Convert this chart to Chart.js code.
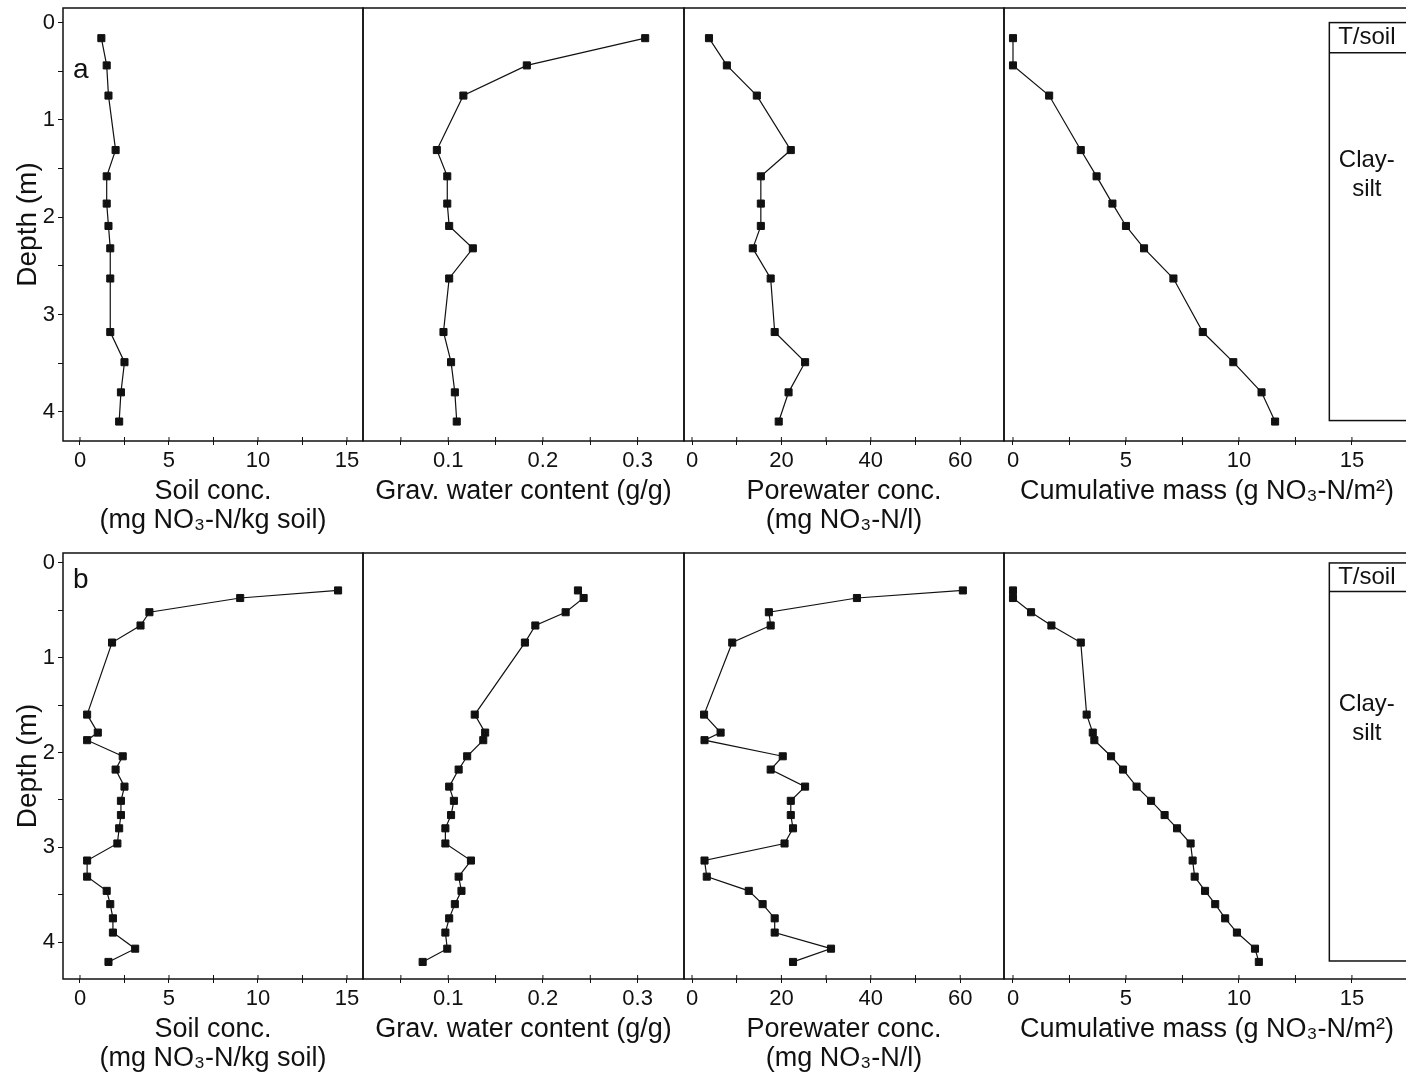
<!DOCTYPE html>
<html>
<head>
<meta charset="utf-8">
<title>Nitrate profiles</title>
<script src="https://cdn.jsdelivr.net/npm/chart.js@4.4.1/dist/chart.umd.min.js"></script>
<style>
  html, body { margin: 0; padding: 0; background: #fff; overflow: hidden; }
  #wrap { position: relative; width: 1406px; height: 1080px; overflow: hidden; }
  #wrap canvas { position: absolute; }
</style>
</head>
<body>
<div id="wrap"></div>
<script>
// Profile a (top row)
const depthA = [0.16, 0.44, 0.75, 1.31, 1.58, 1.86, 2.09, 2.32, 2.63, 3.18, 3.49, 3.80, 4.10]
const soilA = [1.2, 1.5, 1.6, 2.0, 1.5, 1.5, 1.6, 1.7, 1.7, 1.7, 2.5, 2.3, 2.2]
const waterA = [0.308, 0.183, 0.116, 0.088, 0.099, 0.099, 0.101, 0.126, 0.101, 0.095, 0.103, 0.107, 0.109]
const poreA = [3.8, 7.8, 14.5, 22.1, 15.4, 15.4, 15.4, 13.6, 17.6, 18.5, 25.3, 21.6, 19.4]
const cumA = [0, 0, 1.6, 3.0, 3.7, 4.4, 5.0, 5.8, 7.1, 8.4, 9.75, 11.0, 11.6]

// Profile b (bottom row)
const depthB = [0.29, 0.37, 0.52, 0.66, 0.84, 1.60, 1.79, 1.87, 2.04, 2.18, 2.36, 2.51, 2.66, 2.80, 2.96, 3.14, 3.31, 3.46, 3.60, 3.75, 3.90, 4.07, 4.21]
const soilB = [14.5, 9.0, 3.9, 3.4, 1.8, 0.4, 1.0, 0.4, 2.4, 2.0, 2.5, 2.3, 2.3, 2.2, 2.1, 0.4, 0.4, 1.5, 1.7, 1.85, 1.85, 3.1, 1.6]
const waterB = [0.237, 0.243, 0.224, 0.192, 0.181, 0.128, 0.139, 0.137, 0.120, 0.111, 0.101, 0.106, 0.103, 0.097, 0.097, 0.124, 0.111, 0.114, 0.107, 0.101, 0.097, 0.099, 0.073]
const poreB = [60.6, 36.9, 17.2, 17.6, 9.0, 2.7, 6.4, 2.8, 20.3, 17.6, 25.3, 22.1, 22.1, 22.6, 20.7, 2.8, 3.3, 12.7, 15.8, 18.5, 18.5, 31.1, 22.6]
const cumB = [0, 0, 0.8, 1.7, 3.0, 3.26, 3.53, 3.6, 4.34, 4.87, 5.47, 6.11, 6.71, 7.26, 7.86, 7.95, 8.04, 8.5, 8.95, 9.39, 9.91, 10.71, 10.88]

// Axis titles and lithology column
const xTitles = [
  ['Soil conc.', '(mg NO₃-N/kg soil)'],
  ['Grav. water content (g/g)', ''],
  ['Porewater conc.', '(mg NO₃-N/l)'],
  ['Cumulative mass (g NO₃-N/m²)', '']
]
const yTitle = 'Depth (m)'
const lithoNames = [['T/soil'], ['Clay-', 'silt']]
const lithoA = [0, 0.31, 4.09]
const lithoB = [0, 0.30, 4.20]
const lithoLabelDepthA = [0.155, 1.56]
const lithoLabelDepthB = [0.15, 1.65]

const INK = '#111'
const FONT = '"Liberation Sans", Arial, sans-serif'
const AXIS_H = 100
const PAD = 30

const rows = [
  { tag: 'a', tagDy: 62, top: 8, axis: 441, canvasTop: 0, yMin: -0.15, yMax: 4.3,
    depth: depthA, series: [soilA, waterA, poreA, cumA], litho: lithoA, lithoLabels: lithoLabelDepthA },
  { tag: 'b', tagDy: 27, top: 553, axis: 979, canvasTop: 543, yMin: -0.105, yMax: 4.39,
    depth: depthB, series: [soilB, waterB, poreB, cumB], litho: lithoB, lithoLabels: lithoLabelDepthB }
]
const cols = [
  { left: 63, right: 363, min: -0.955, max: 15.9, step: 2.5, major: 5 },
  { left: 363, right: 684, min: 0.01, max: 0.349, step: 0.05, major: 0.1 },
  { left: 684, right: 1004, min: -1.79, max: 69.8, step: 10, major: 20 },
  { left: 1004, right: 1410, min: -0.398, max: 17.57, step: 2.5, major: 5 }
]

const isMajor = (v, m) => Math.abs(v / m - Math.round(v / m)) < 1e-6
const fmt = (v) => String(Math.round(v * 1000) / 1000)

// frame, inner tick marks, panel letter and soil column
const framePlugin = {
  id: 'frame',
  afterDraw(chart, args, opts) {
    const { ctx, chartArea: a, scales } = chart
    ctx.save()
    ctx.strokeStyle = INK
    ctx.lineWidth = 1.5
    ctx.strokeRect(a.left, a.top, a.right - a.left, a.bottom - a.top)

    ctx.lineWidth = 1
    ctx.beginPath()
    scales.x.ticks.forEach((t) => {
      const px = scales.x.getPixelForValue(t.value)
      ctx.moveTo(px, a.bottom)
      ctx.lineTo(px, a.bottom - 4)
    })
    ctx.stroke()

    ctx.fillStyle = INK
    if (opts.tag) {
      ctx.font = '28px ' + FONT
      ctx.textAlign = 'left'
      ctx.textBaseline = 'middle'
      ctx.fillText(opts.tag, a.left + 10, a.top + opts.tagDy)
    }

    if (opts.litho) {
      const y = scales.y
      const x0 = scales.x.getPixelForValue(14.0)
      const x1 = a.right + 10
      const ys = opts.litho.map((d) => y.getPixelForValue(d))
      ctx.lineWidth = 1.5
      ctx.strokeRect(x0, ys[0], x1 - x0, ys[ys.length - 1] - ys[0])
      ctx.beginPath()
      for (let i = 1; i < ys.length - 1; i++) {
        ctx.moveTo(x0, ys[i])
        ctx.lineTo(x1, ys[i])
      }
      ctx.stroke()
      ctx.font = '24px ' + FONT
      ctx.textAlign = 'center'
      ctx.textBaseline = 'middle'
      const cx = scales.x.getPixelForValue(15.66)
      lithoNames.forEach((lines, i) => {
        const cy = y.getPixelForValue(opts.lithoLabels[i])
        lines.forEach((txt, k) => {
          ctx.fillText(txt, cx, cy + (k - (lines.length - 1) / 2) * 29)
        })
      })
    }
    ctx.restore()
  }
}

const wrap = document.getElementById('wrap')

rows.forEach((row) => {
  cols.forEach((col, c) => {
    const first = c === 0
    const canvasLeft = first ? 0 : col.left - PAD
    const w = col.right + PAD - canvasLeft
    const h = row.axis + AXIS_H - row.canvasTop

    const canvas = document.createElement('canvas')
    canvas.width = w
    canvas.height = h
    canvas.style.left = canvasLeft + 'px'
    canvas.style.top = row.canvasTop + 'px'
    canvas.style.width = w + 'px'
    canvas.style.height = h + 'px'
    wrap.appendChild(canvas)

    const values = row.series[c]
    const points = row.depth.map((d, i) => ({ x: values[i], y: d }))

    new Chart(canvas, {
      type: 'scatter',
      data: {
        datasets: [{
          data: points,
          showLine: true,
          borderColor: INK,
          borderWidth: 1.2,
          pointStyle: 'rect',
          pointRadius: 5,
          pointBackgroundColor: INK,
          pointBorderColor: INK,
          pointBorderWidth: 1
        }]
      },
      options: {
        responsive: false,
        animation: false,
        events: [],
        layout: { padding: { left: first ? 0 : PAD, right: PAD, top: row.top - row.canvasTop, bottom: 0 } },
        plugins: {
          legend: { display: false },
          tooltip: { enabled: false },
          frame: {
            tag: first ? row.tag : null,
            tagDy: row.tagDy,
            litho: c === 3 ? row.litho : null,
            lithoLabels: row.lithoLabels
          }
        },
        scales: {
          x: {
            type: 'linear',
            position: 'bottom',
            min: col.min,
            max: col.max,
            afterFit: (s) => {
              s.height = AXIS_H
              s.paddingLeft = 0
              s.paddingRight = 0
            },
            border: { display: false },
            grid: { drawOnChartArea: false, drawTicks: true, tickLength: 4, color: INK, lineWidth: 1 },
            ticks: {
              stepSize: col.step,
              includeBounds: false,
              autoSkip: false,
              maxRotation: 0,
              padding: 3,
              color: INK,
              font: { family: FONT, size: 22 },
              callback: (v) => (isMajor(v, col.major) ? fmt(v) : '')
            },
            title: {
              display: true,
              text: xTitles[c],
              color: INK,
              font: { family: FONT, size: 27, lineHeight: 1.08 },
              padding: { top: 0, bottom: 6 }
            }
          },
          y: {
            type: 'linear',
            reverse: true,
            display: first,
            min: row.yMin,
            max: row.yMax,
            afterFit: (s) => {
              s.width = first ? 63 : 0
              s.paddingTop = 0
              s.paddingBottom = 0
            },
            border: { display: false },
            grid: { drawOnChartArea: false, drawTicks: true, tickLength: 5, color: INK, lineWidth: 1 },
            ticks: {
              stepSize: 0.5,
              includeBounds: false,
              autoSkip: false,
              padding: 3,
              color: INK,
              font: { family: FONT, size: 22 },
              callback: (v) => (isMajor(v, 1) ? fmt(v) : '')
            },
            title: {
              display: true,
              text: yTitle,
              color: INK,
              font: { family: FONT, size: 28 },
              padding: { top: 11, bottom: 0 }
            }
          }
        }
      },
      plugins: [framePlugin]
    })
  })
})
</script>
</body>
</html>
